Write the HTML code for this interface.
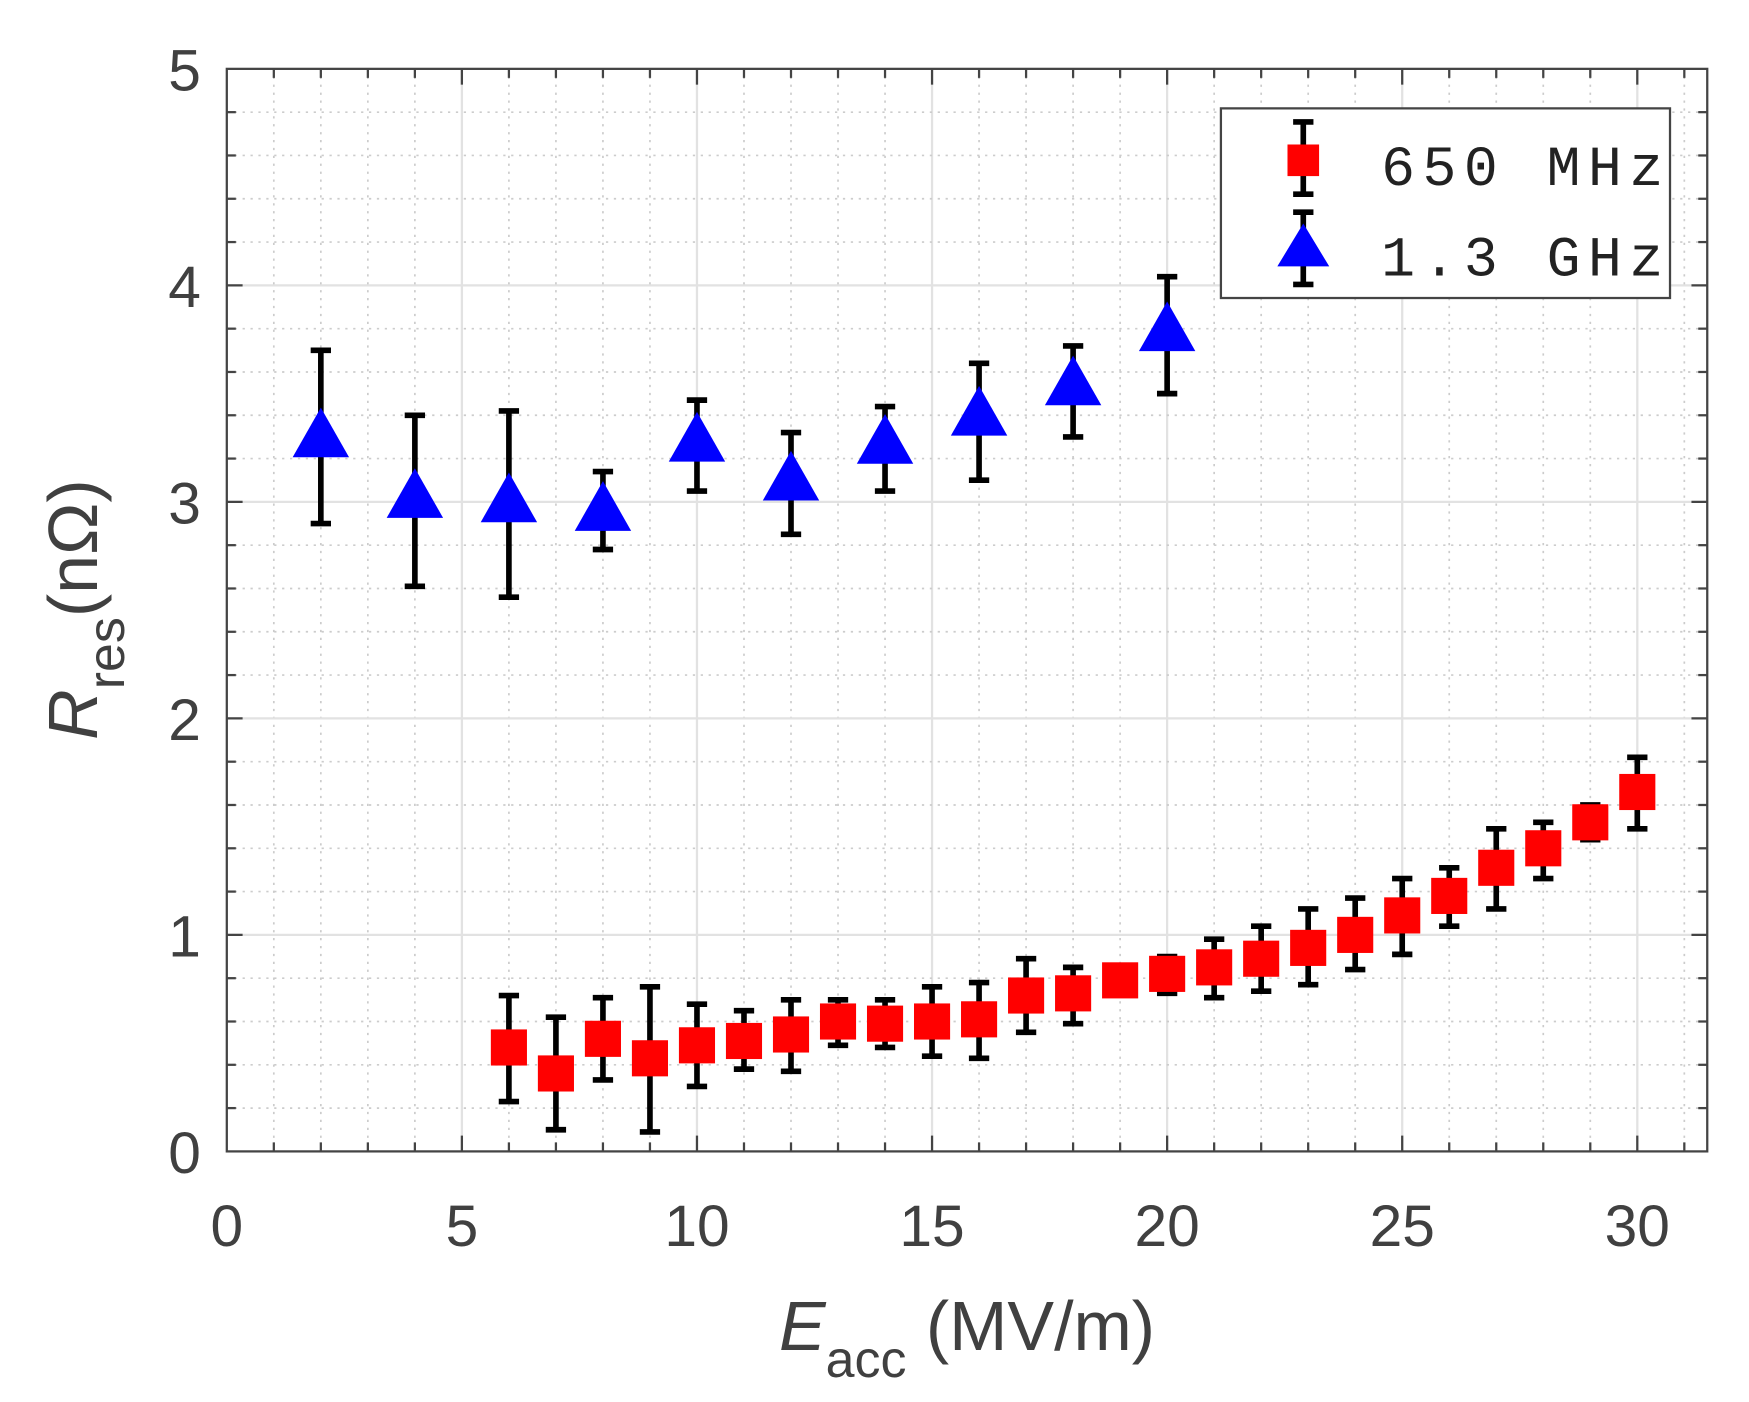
<!DOCTYPE html>
<html><head><style>html,body{margin:0;padding:0;background:#fff}svg{display:block}</style></head>
<body>
<svg id="s" width="1749" height="1402" viewBox="0 0 1550 1242" preserveAspectRatio="none" xmlns="http://www.w3.org/2000/svg" font-family="Liberation Sans, sans-serif">
<rect x="0" y="0" width="1550" height="1242" fill="#fff"/>
<g id="grid"></g>
<g id="data"></g>
<rect x="201" y="61" width="1312" height="959" fill="none" stroke="#444" stroke-width="2"/>
<g id="lab" fill="#404040" font-size="52"></g>
<text x="857" y="1196" text-anchor="middle" font-size="62" fill="#404040"><tspan font-style="italic">E</tspan><tspan font-size="46" dy="24">acc</tspan><tspan dy="-24"> (MV/m)</tspan></text>
<text transform="translate(86,540) rotate(-90)" text-anchor="middle" font-size="62" fill="#404040"><tspan font-style="italic">R</tspan><tspan font-size="46" dy="24">res</tspan><tspan dy="-24">(nΩ)</tspan></text>
<rect x="1082" y="96" width="398" height="168" fill="#fff" stroke="#444" stroke-width="2"/>
<g stroke="#000" stroke-width="5">
<line x1="1155" y1="108" x2="1155" y2="172"/><line x1="1146" y1="108" x2="1164" y2="108"/><line x1="1146" y1="172" x2="1164" y2="172"/>
<line x1="1155" y1="188" x2="1155" y2="252"/><line x1="1146" y1="188" x2="1164" y2="188"/><line x1="1146" y1="252" x2="1164" y2="252"/>
</g>
<rect x="1141" y="128" width="28" height="28" fill="#f00"/>
<polygon points="1155,198 1178,236 1132,236" fill="#00f"/>
<text x="1224" y="164" font-family="Liberation Mono, monospace" font-size="50" fill="#222" textLength="250">650 MHz</text>
<text x="1224" y="244" font-family="Liberation Mono, monospace" font-size="50" fill="#222" textLength="250">1.3 GHz</text>
</svg>
<script>
const NS="http://www.w3.org/2000/svg";
const X=v=>201+41.667*v, Y=v=>1020-191.8*v;
function el(p,t,a){const e=document.createElementNS(NS,t);for(const k in a)e.setAttribute(k,a[k]);p.appendChild(e);return e;}
const g=document.getElementById('grid'),d=document.getElementById('data'),lab=document.getElementById('lab');
for(let i=1;i<=31;i++){const x=X(i);
 if(i%5) el(g,'line',{x1:x,y1:61,x2:x,y2:1020,stroke:'#ccc','stroke-width':1.5,'stroke-dasharray':'2,5'});
 else el(g,'line',{x1:x,y1:61,x2:x,y2:1020,stroke:'#e2e2e2','stroke-width':2});
 el(g,'line',{x1:x,y1:1020,x2:x,y2:i%5?1012:1006,stroke:'#444','stroke-width':2});
 el(g,'line',{x1:x,y1:61,x2:x,y2:i%5?69:75,stroke:'#444','stroke-width':2});}
for(let i=1;i<25;i++){const y=Y(i*0.2);
 if(i%5) el(g,'line',{x1:201,y1:y,x2:1513,y2:y,stroke:'#ccc','stroke-width':1.5,'stroke-dasharray':'2,5'});
 else el(g,'line',{x1:201,y1:y,x2:1513,y2:y,stroke:'#e2e2e2','stroke-width':2});
 el(g,'line',{x1:201,y1:y,x2:i%5?209:215,y2:y,stroke:'#444','stroke-width':2});
 el(g,'line',{x1:1513,y1:y,x2:i%5?1505:1499,y2:y,stroke:'#444','stroke-width':2});}
for(let v=0;v<=30;v+=5){const t=el(lab,'text',{x:X(v),y:1104,'text-anchor':'middle'});t.textContent=v;}
for(let v=0;v<=5;v++){const t=el(lab,'text',{x:178,y:Y(v)+19,'text-anchor':'end'});t.textContent=v;}
const red=[[6,.48,.23,.72],[7,.36,.10,.62],[8,.52,.33,.71],[9,.43,.09,.76],[10,.49,.30,.68],[11,.51,.38,.65],[12,.54,.37,.70],[13,.60,.49,.70],[14,.59,.48,.70],[15,.60,.44,.76],[16,.61,.43,.78],[17,.72,.55,.89],[18,.73,.59,.85],[19,.79,.73,.84],[20,.82,.73,.90],[21,.85,.71,.98],[22,.89,.74,1.04],[23,.94,.77,1.12],[24,1.00,.84,1.17],[25,1.09,.91,1.26],[26,1.18,1.04,1.31],[27,1.31,1.12,1.49],[28,1.40,1.26,1.52],[29,1.52,1.44,1.60],[30,1.66,1.49,1.82]];
const blue=[[2,3.3,2.9,3.7],[4,3.02,2.61,3.4],[6,3.0,2.56,3.42],[8,2.96,2.78,3.14],[10,3.28,3.05,3.47],[12,3.1,2.85,3.32],[14,3.27,3.05,3.44],[16,3.4,3.1,3.64],[18,3.54,3.3,3.72],[20,3.79,3.5,4.04]];
function eb(p){const x=X(p[0]),a=Y(p[2]),b=Y(p[3]);
 el(d,'line',{x1:x,y1:a,x2:x,y2:b,stroke:'#000','stroke-width':5});
 el(d,'line',{x1:x-9,y1:a,x2:x+9,y2:a,stroke:'#000','stroke-width':5});
 el(d,'line',{x1:x-9,y1:b,x2:x+9,y2:b,stroke:'#000','stroke-width':5});}
blue.forEach(p=>{eb(p);const x=X(p[0]),y=Y(p[1]);el(d,'polygon',{points:`${x},${y-26} ${x+25},${y+18} ${x-25},${y+18}`,fill:'#00f'});});
red.forEach(p=>{eb(p);const x=X(p[0]),y=Y(p[1]);el(d,'rect',{x:x-16,y:y-16,width:32,height:32,fill:'#f00'});});
</script>
</body></html>
